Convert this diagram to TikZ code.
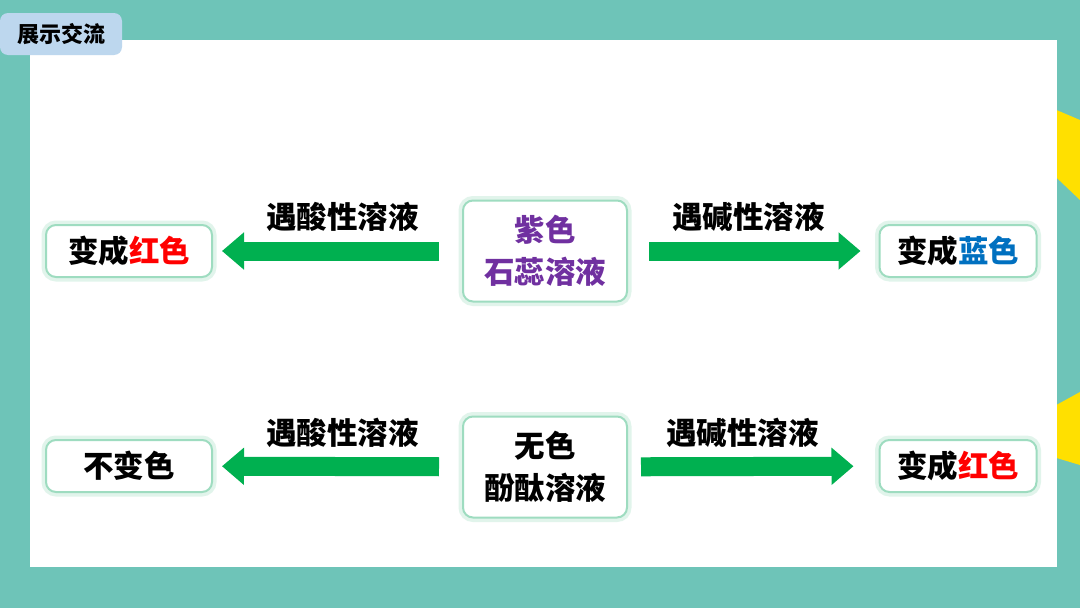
\documentclass[tikz,border=0pt]{standalone}
\usepackage{fontspec}
\newfontfamily\cjk{Noto Sans CJK SC}
\usetikzlibrary{arrows.meta,positioning}
\definecolor{bgteal}{HTML}{6EC4B8}
\definecolor{tabblue}{HTML}{BDD7EE}
\definecolor{sunyellow}{HTML}{FFE000}
\definecolor{glowgreen}{HTML}{9EDCC0}
\definecolor{arrowgreen}{HTML}{00B050}
\definecolor{litmuspurple}{HTML}{7030A0}
\definecolor{acidred}{HTML}{FF0000}
\definecolor{baseblue}{HTML}{0070C0}

\begin{document}
\begin{tikzpicture}[x=1pt,y=-1pt,
    glowbox/.style={rounded corners=10pt, fill=white, draw=glowgreen, line width=2pt,
        preaction={draw=glowgreen, line width=9pt, opacity=0.3},
        font=\cjk\bfseries\fontsize{30.5}{42}\selectfont, align=center, inner sep=0pt},
    resultbox/.style={glowbox, minimum width=166pt, minimum height=52pt},
    reagentbox/.style={glowbox, minimum width=164pt, minimum height=101pt},
    bigarrow/.style={draw=arrowgreen, line width=19pt, -{Triangle[length=22pt,width=36pt]}},
    armlabel/.style={font=\cjk\bfseries\fontsize{30.5}{34}\selectfont, yshift=34pt}]
    \useasboundingbox (0,0) rectangle (1080,608);
    \fill[bgteal] (0,0) rectangle (1080,608);
    \fill[sunyellow] (1040,103) -- (1080,120) -- (1080,200) -- (1040,162) -- cycle;
    \fill[sunyellow] (1040,414) -- (1080,392) -- (1080,465) -- (1040,453) -- cycle;
    \fill[white] (30,40) rectangle (1057,567);
    \node[fill=tabblue, rounded corners=8pt, minimum width=122pt, minimum height=42pt,
        inner sep=0pt, font=\cjk\bfseries\fontsize{22}{24}\selectfont] (tab) at (61,34) {展示交流};

    % litmus row
    \node[reagentbox, text=litmuspurple] (litmus) at (545,251) {紫色\\石蕊溶液};
    \node[resultbox] (litmusacid) at (129,251) {变成\textcolor{acidred}{红色}};
    \node[resultbox, minimum width=157pt] (litmusbase) at (958,251) {变成\textcolor{baseblue}{蓝色}};
    \draw[bigarrow, shorten <=23pt, shorten >=9pt] (litmus) -- (litmusacid)
        node[armlabel, midway, xshift=5pt] (litmusacidlbl) {遇酸性溶液};
    \draw[bigarrow, shorten <=21pt, shorten >=18pt] (litmus) -- (litmusbase)
        node[armlabel, midway, xshift=-5pt] (litmusbaselbl) {遇碱性溶液};

    % phenolphthalein row
    \node[reagentbox] (phenol) at (545,467) {无色\\酚酞溶液};
    \node[resultbox] (phenolacid) at (129,466) {不变色};
    \node[resultbox, minimum width=157pt] (phenolbase) at (958,466) {变成\textcolor{acidred}{红色}};
    \draw[bigarrow, shorten <=23pt, shorten >=9pt] (phenol) -- (phenolacid)
        node[armlabel, midway, xshift=5pt] (phenolacidlbl) {遇酸性溶液};
    \draw[bigarrow, shorten <=13pt, shorten >=25pt] (phenol) -- (phenolbase)
        node[armlabel, midway, xshift=-11pt] (phenolbaselbl) {遇碱性溶液};
\end{tikzpicture}
\end{document}
